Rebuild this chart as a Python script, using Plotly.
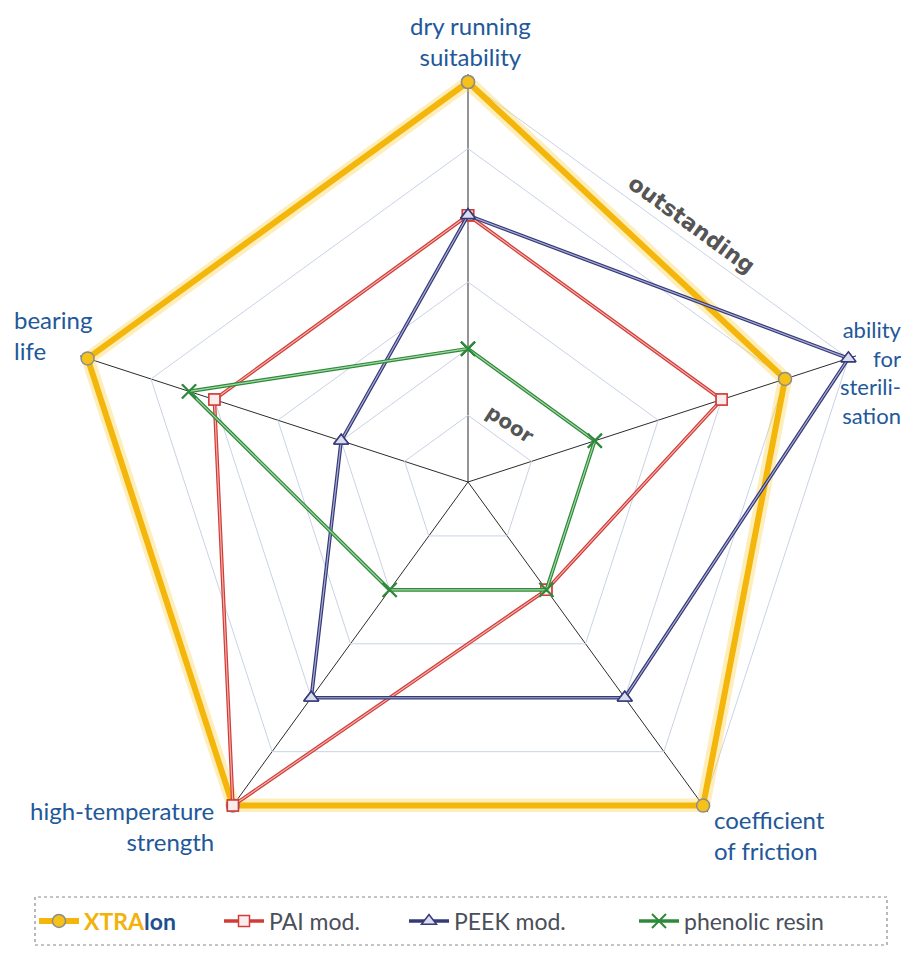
import plotly.graph_objects as go

categories = ["dry running suitability", "ability for sterilisation",
              "coefficient of friction", "high-temperature strength", "bearing life"]
xtralon = [6, 5, 6, 6, 6]
pai = [4, 4, 2, 6, 4]
peek = [4, 6, 4, 4, 2]
phenolic = [2, 2, 2, 2, 4.4]

def closed(v):
    return list(v) + [v[0]]

theta = closed(categories)

# page offset of the plot (body margin 8px on each side)
OFF = 8
W, H = 913 - 2 * OFF, 955 - 2 * OFF

def px(x):
    return (x - OFF) / W

def py(y):
    return 1 - (y - OFF) / H

cx, cy, R = 468, 482, 400
RMAX = 6.12          # a little headroom so the thick outer line is not clipped
Rd = R * RMAX / 6

fig = go.Figure()

fig.add_trace(go.Scatterpolar(r=closed(xtralon), theta=theta, mode="lines", cliponaxis=False,
                              line=dict(color="rgba(250,205,60,0.35)", width=14),
                              showlegend=False, hoverinfo="skip"))
fig.add_trace(go.Scatterpolar(
    r=closed(xtralon), theta=theta, mode="lines+markers", cliponaxis=False, legend="legend",
    name="<b><span style='color:#F2B20C'>XTRA</span><span style='color:#1E4F8F'>lon</span></b>",
    line=dict(color="#F4B60A", width=6),
    marker=dict(symbol="circle", size=13, color="#F6C21A", line=dict(color="#8C8C8C", width=1.5))))

series = [
    ("PAI mod.", pai, "#D23C37", "#F3B0AC",
     dict(symbol="square", size=11, color="#FBEDEE", line=dict(color="#D23C37", width=1.5)), "legend2"),
    ("PEEK mod.", peek, "#363B78", "#A9ACD6",
     dict(symbol="triangle-up", size=13, color="#DCDDF1", line=dict(color="#363B78", width=1.5)), "legend3"),
    ("phenolic resin", phenolic, "#2E8A3A", "#A6D7A8",
     dict(symbol="x-thin", size=14, color="#2E8A3A", line=dict(color="#2E8A3A", width=2)), "legend4"),
]

for name, vals, dark, light, mk, lg in series:
    fig.add_trace(go.Scatterpolar(r=closed(vals), theta=theta, mode="lines+markers", name=name,
                                  cliponaxis=False, legend=lg,
                                  line=dict(color=dark, width=3.6), marker=mk))
    fig.add_trace(go.Scatterpolar(r=closed(vals), theta=theta, mode="lines", cliponaxis=False,
                                  line=dict(color=light, width=1.2), showlegend=False, hoverinfo="skip"))
    fig.add_trace(go.Scatterpolar(r=vals, theta=categories, mode="markers", marker=mk, cliponaxis=False,
                                  showlegend=False, hoverinfo="skip"))

legfont = dict(family="Lato, Open Sans, sans-serif", size=23, color="#4A4F5A")

def leg(x):
    return dict(orientation="h", x=px(x), xanchor="left", y=py(921), yanchor="middle",
                font=legfont, bgcolor="rgba(0,0,0,0)", borderwidth=0, itemwidth=40)

fig.update_layout(
    width=W, height=H,
    margin=dict(l=0, r=0, t=0, b=0),
    paper_bgcolor="white", plot_bgcolor="white",
    font=dict(family="Lato, Open Sans, sans-serif"),
    polar=dict(
        domain=dict(x=[px(cx - Rd), px(cx + Rd)], y=[py(cy + Rd), py(cy - Rd)]),
        bgcolor="white",
        gridshape="linear",
        radialaxis=dict(range=[0, RMAX], tickvals=[1, 2, 3, 4, 5, 6], showticklabels=False, ticks="",
                        showline=False, gridcolor="#C9D3E6", gridwidth=1),
        angularaxis=dict(rotation=90, direction="clockwise", showticklabels=False, ticks="",
                         gridcolor="#2B2B2B", gridwidth=1.2, showline=False),
    ),
    legend=leg(34),
    legend2=leg(219),
    legend3=leg(404),
    legend4=leg(634),
    showlegend=True,
)

fig.add_shape(type="rect", xref="paper", yref="paper",
              x0=px(35), x1=px(887), y0=py(945), y1=py(897),
              line=dict(color="#8A8A8A", width=1.2, dash="dot"))

lab = dict(color="#22589A", size=24, family="Lato, Open Sans, sans-serif")
labels = [
    ("dry running<br>suitability", 470, 41, "center", "center", 24),
    ("bearing<br>life", 12, 335, "left", "left", 24),
    ("ability<br>for<br>sterili-<br>sation", 904, 372, "right", "right", 22),
    ("high-temperature<br>strength", 216, 826, "right", "right", 24),
    ("coefficient<br>of friction", 712, 835, "left", "left", 24),
]
for txt, x, y, xa, al, sz in labels:
    fig.add_annotation(text=txt, x=px(x), y=py(y), xref="paper", yref="paper",
                       xanchor=xa, yanchor="middle", align=al, showarrow=False,
                       font=dict(lab, size=sz))

fig.add_annotation(text="<b>outstanding</b>", x=px(692), y=py(224), xref="paper", yref="paper",
                   xanchor="center", yanchor="middle",
                   showarrow=False, textangle=36, font=dict(color="#555555", size=22, family="DejaVu Sans"))
fig.add_annotation(text="<b>poor</b>", x=px(510), y=py(424), xref="paper", yref="paper",
                   xanchor="center", yanchor="middle",
                   showarrow=False, textangle=33, font=dict(color="#555555", size=20, family="DejaVu Sans"))

fig.write_html("out.html")
